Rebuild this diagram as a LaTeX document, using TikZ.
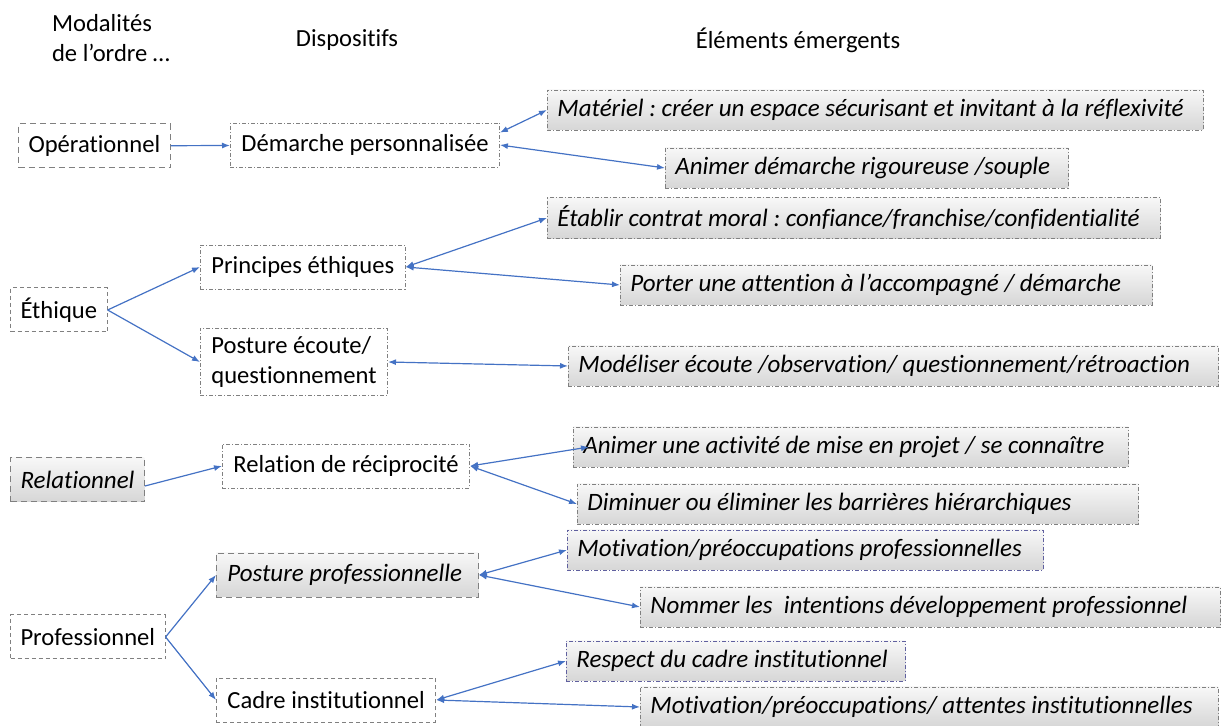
\documentclass[tikz,border=0pt]{standalone}
\usepackage{fontspec}
\setmainfont{Carlito}[Ligatures=NoCommon]
\usepackage{tikz}
\usetikzlibrary{arrows.meta}
\definecolor{lienbleu}{RGB}{68, 114, 196}
\definecolor{bordgris}{RGB}{128, 128, 128}

\tikzset{
  modal/.style={draw=bordgris, dashed, dash pattern=on 3pt off 2pt, line width=0.5pt,
    inner xsep=5pt, minimum height=22pt, anchor=west},
  dispo/.style={draw=bordgris, line width=0.4pt, dash pattern=on 2pt off 1pt on 0.5pt off 1pt,
    inner xsep=5.5pt, minimum height=22pt, anchor=west, align=flush left},
  ombre/.style={top color=gray!6, bottom color=gray!32, font=\fontsize{12.5}{15}\selectfont\itshape},
  elem/.style={draw=bordgris, line width=0.4pt, dash pattern=on 2pt off 1pt on 0.5pt off 1pt,
    ombre, inner xsep=5pt, minimum height=20pt, anchor=west, align=flush left, text width=#1},
  lien/.style={lienbleu, line width=0.6pt},
}

\begin{document}
\frenchspacing
\fontsize{12.3}{15}\selectfont
\begin{tikzpicture}[x=0.5pt, y=-0.5pt, >={Latex[length=4pt, width=3pt]}]
    \useasboundingbox (0,0) rectangle (1223,726);

    % titres des colonnes
    \node[align=left] (tmod) at (111,38) {Modalités\\de l’ordre …};
    \node (tdis) at (347,40) {Dispositifs};
    \node (telm) at (798,40) {Éléments émergents};

    % ordre opérationnel
    \node[modal] (oper) at (18,146) {Opérationnel};
    \node[dispo] (dem) at (230,145) {Démarche personnalisée};
    \node[elem=318pt] (mat) at (547,110) {Matériel : créer un espace sécurisant et invitant à la réflexivité};
    \node[elem=191.5pt] (anim) at (665,168) {Animer démarche rigoureuse /souple};

    % ordre éthique
    \node[modal, dash pattern=on 2pt off 1.5pt] (eth) at (10,310) {Éthique};
    \node[dispo] (princ) at (200,267) {Principes éthiques};
    \node[dispo] (ecoute) at (200,362) {Posture écoute/\\questionnement};
    \node[elem=296.5pt] (contrat) at (547,218) {Établir contrat moral : confiance/franchise/confidentialité};
    \node[elem=256pt] (porter) at (620,285) {Porter une attention à l’accompagné / démarche};
    \node[elem=315pt] (model) at (568,366) {Modéliser écoute /observation/ questionnement/rétroaction};

    % ordre relationnel
    \node[modal, ombre] (rel) at (10,480) {Relationnel};
    \node[dispo] (recip) at (222,466) {Relation de réciprocité};
    \node[elem=267.5pt] (projet) at (573,447) {Animer une activité de mise en projet / se connaître};
    \node[elem=270.5pt] (barr) at (577,504) {Diminuer ou éliminer les barrières hiérarchiques};

    % ordre professionnel
    \node[modal, dash pattern=on 2pt off 1.5pt] (prof) at (10,637) {Professionnel};
    \node[dispo, ombre, dash pattern=on 3pt off 2pt, text width=120pt] (postp) at (216,575) {Posture professionnelle};
    \node[dispo, dash pattern=on 2pt off 1.5pt] (cadre) at (216,700) {Cadre institutionnel};
    \node[elem=228pt, draw=blue!25!gray] (motp) at (567,550) {Motivation/préoccupations professionnelles};
    \node[elem=280pt] (nomm) at (640,607) {Nommer les \ intentions développement professionnel};
    \node[elem=159.5pt, draw=blue!25!gray] (resp) at (566,661) {Respect du cadre institutionnel};
    \node[elem=279pt] (atten) at (640,707) {Motivation/préoccupations/ attentes institutionnelles};

    % liens
    \draw[lien, ->] (oper) -- (dem);
    \draw[lien, <->] ([yshift=-5pt]dem.north east) -- (mat.west);
    \draw[lien, <->] (dem.east) -- (anim.west);
    \draw[lien, ->] (eth.east) -- (princ.west);
    \draw[lien, ->] (eth.east) -- (ecoute.west);
    \draw[lien, <->] (princ.east) -- (contrat.west);
    \draw[lien, <->] (princ.east) -- (porter.west);
    \draw[lien, <->] (ecoute.east) -- (model.west);
    \draw[lien, ->] ([yshift=-3pt]rel.east) -- (recip.west);
    \draw[lien, <->] (recip.east) -- ([xshift=8pt]projet.west);
    \draw[lien, <->] (recip.east) -- (barr.west);
    \draw[lien, ->] (prof.east) -- (postp.west);
    \draw[lien, ->] (prof.east) -- (cadre.west);
    \draw[lien, <->] (postp.east) -- (motp.west);
    \draw[lien, <->] (postp.east) -- (nomm.west);
    \draw[lien, <->] (cadre.east) -- (resp.west);
    \draw[lien, <->] (cadre.east) -- (atten.west);
\end{tikzpicture}
\end{document}
